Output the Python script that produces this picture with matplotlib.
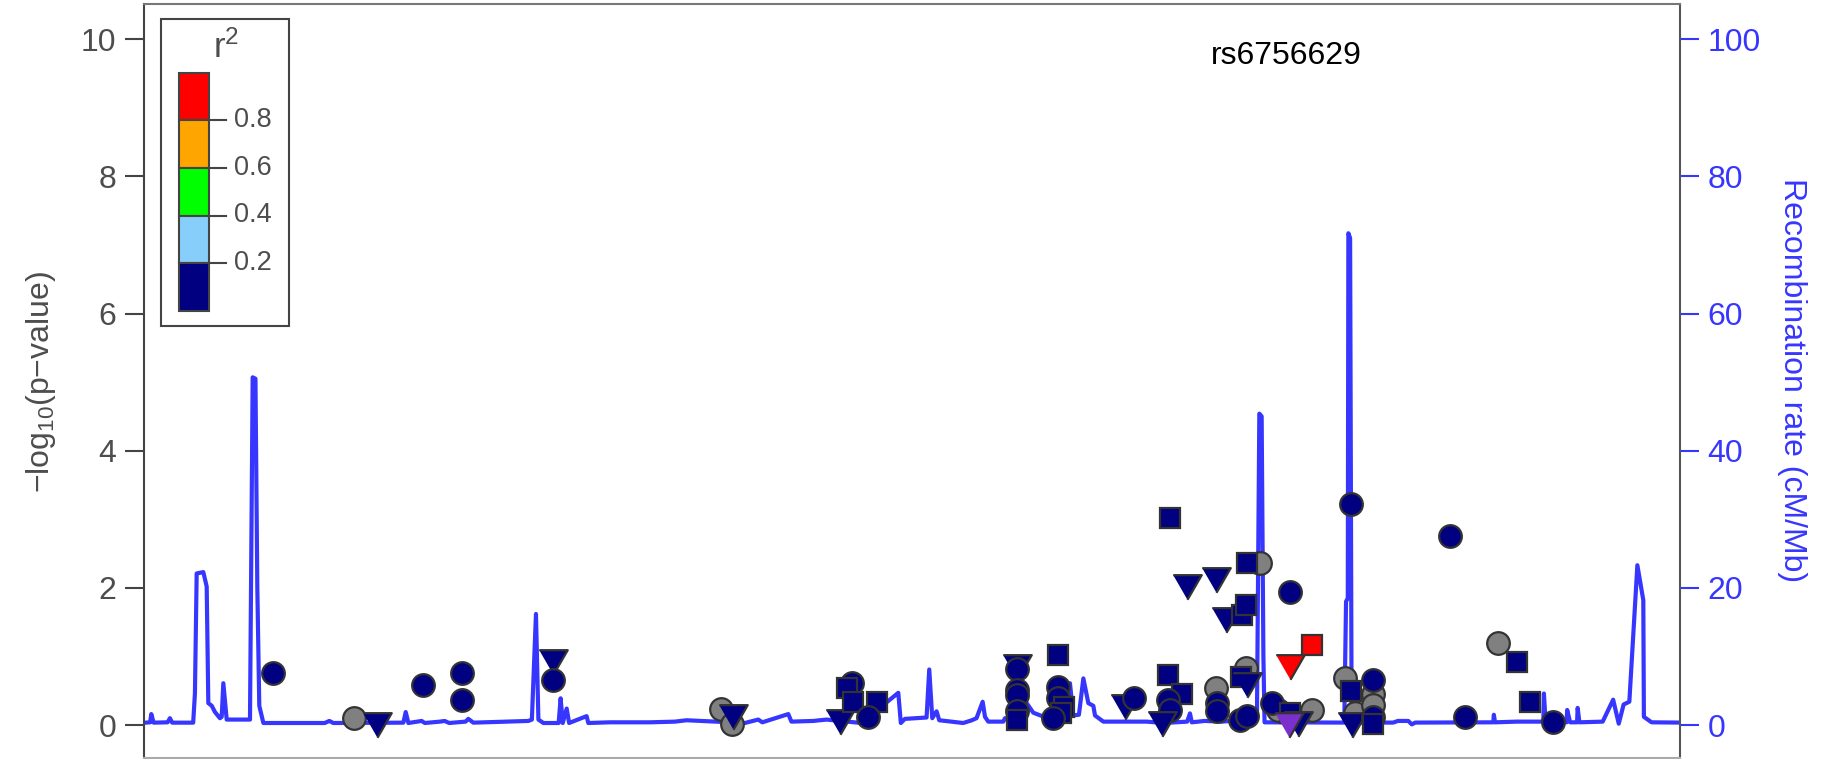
import matplotlib
matplotlib.use('Agg')
import matplotlib.pyplot as plt
from matplotlib.patches import Rectangle
from matplotlib.lines import Line2D

plt.rcParams['font.family'] = ['Liberation Sans', 'DejaVu Sans']
plt.rcParams['mathtext.fontset'] = 'custom'
plt.rcParams['mathtext.rm'] = 'Liberation Sans'
plt.rcParams['mathtext.it'] = 'Liberation Sans'

# SNPs: position (kb, arbitrary offset), -log10(p), marker shape, LD group
snp_pos = [234.3, 304.4, 323.6, 363.2, 397.2, 397.2, 475.4, 474.9, 619.5, 629.2,
           629.5, 721.7, 732.3, 727.5, 733.2, 753.2, 746.0,
           874.0, 874.0, 874.0, 874.0, 874.0, 874.0, 909.3, 909.3, 909.0, 914.5,
           912.0, 904.4, 966.6, 974.3,
           1003.8, 1015.3, 1003.8, 1005.2, 998.1, 1005.2, 1019.6, 1044.8, 1053.4,
           1066.8, 1070.5, 1082.6, 1071.1, 1108.4, 1127.0, 1108.4, 1070.5, 1066.0,
           1071.1, 1044.8, 1045.3, 1045.3, 1065.4, 1071.1, 1092.6, 1098.0, 1108.4,
           1127.0, 1115.5, 1107.5,
           1160.5, 1155.6, 1160.5, 1164.2, 1161.3, 1179.4, 1179.4, 1179.4, 1179.4,
           1179.4, 1245.8, 1287.3, 1303.0, 1314.5, 1258.7, 1334.0]
snp_logp = [0.76, 0.11, 0.0, 0.58, 0.76, 0.36, 0.92, 0.66, 0.24, 0.02,
            0.12, 0.05, 0.61, 0.54, 0.34, 0.34, 0.12,
            0.85, 0.82, 0.51, 0.44, 0.20, 0.07, 1.02, 0.56, 0.39, 0.26,
            0.18, 0.10, 0.27, 0.40,
            0.73, 0.46, 0.37, 0.22, 0.02, 3.02, 2.02, 2.11, 1.53,
            1.60, 1.75, 2.36, 2.36, 1.94, 1.17, 0.85, 0.83, 0.70,
            0.58, 0.54, 0.32, 0.20, 0.07, 0.13, 0.32, 0.22, 0.17,
            0.22, 0.02, 0.0,
            3.22, 0.68, 0.49, 0.17, 0.0, 0.66, 0.46, 0.29, 0.12,
            0.02, 2.76, 1.19, 0.92, 0.33, 0.12, 0.05]
snp_shape = ['o', 'o', 'v', 'o', 'o', 'o', 'v', 'o', 'o', 'o',
             'v', 'v', 'o', 's', 's', 's', 'o',
             'v', 'o', 'o', 'o', 'o', 's', 's', 'o', 'o', 's',
             's', 'o', 'v', 'o',
             's', 's', 'o', 'o', 'v', 's', 'v', 'v', 'v',
             's', 's', 'o', 's', 'o', 's', 'v', 'o', 's',
             'v', 'o', 'o', 'o', 'o', 'o', 'o', 'o', 's',
             'o', 'v', 'v',
             'o', 'o', 's', 'o', 'v', 'o', 'o', 'o', 'o',
             's', 'o', 'o', 's', 's', 'o', 'o']
snp_ld = ['low', 'na', 'low', 'low', 'low', 'low', 'low', 'low', 'na', 'na',
          'low', 'low', 'low', 'low', 'low', 'low', 'low',
          'low', 'low', 'low', 'low', 'low', 'low', 'low', 'low', 'low', 'low',
          'low', 'low', 'low', 'low',
          'low', 'low', 'low', 'low', 'low', 'low', 'low', 'low', 'low',
          'low', 'low', 'na', 'low', 'low', 'high', 'high', 'na', 'low',
          'low', 'na', 'low', 'low', 'low', 'low', 'low', 'na', 'low',
          'na', 'low', 'index',
          'low', 'na', 'low', 'na', 'low', 'low', 'na', 'na', 'low',
          'low', 'low', 'na', 'low', 'low', 'low', 'low']

# recombination rate (cM/Mb)
recomb_pos = [125, 129, 130, 132, 144, 146, 148, 166, 167.5, 169, 174.7, 177.6, 179, 182,
              184.7, 189, 190.5, 191.9, 194.8, 214.8, 217.1, 219.5, 221.1, 222.8, 226.3,
              279, 283, 286.4, 346.6, 348.6, 350.9, 362.3, 365, 378, 382, 386, 400, 402.4,
              406.7, 454, 457, 460.5, 462.6, 466.9, 480, 481.7, 483.5, 486.9, 489, 504,
              505.5, 524, 545.5, 558.4, 579.9, 589.9, 602.8, 640, 651.5, 655, 658.7, 677.3,
              680, 698.8, 710.2, 740, 771.8, 774, 777.5, 796.1, 798.4, 801, 804.7, 807,
              827.6, 835, 839, 844.3, 846.3, 849.1, 862, 863.5, 878, 882.1, 887.8, 900,
              915, 919.3, 922.2, 927, 930.8, 935.1, 939.4, 940.8, 948, 968, 985, 1000,
              1020, 1022.4, 1024, 1035, 1050, 1070, 1076, 1080, 1082, 1084, 1085.5,
              1086.5, 1155, 1156.5, 1158, 1158.5, 1160, 1161.3, 1197, 1201, 1210, 1213,
              1216, 1283, 1283.5, 1284.5, 1303, 1326, 1326.5, 1328, 1346, 1346.5, 1349,
              1355, 1355.5, 1357, 1377, 1386, 1390.8, 1395, 1399.9, 1406.8, 1411.9,
              1412.4, 1419, 1443]
recomb_rate = [0.35, 0.4, 1.6, 0.35, 0.4, 1.0, 0.35, 0.35, 4.6, 22.1, 22.3, 20.2, 3.2, 2.8,
               1.9, 1.0, 1.2, 6.1, 0.8, 0.8, 50.7, 50.5, 20, 2.8, 0.3,
               0.3, 0.6, 0.3, 0.35, 1.9, 0.3, 0.6, 0.3, 0.5, 0.6, 0.3, 0.5, 0.9,
               0.35, 0.6, 0.8, 16.2, 0.8, 0.3, 0.3, 3.9, 0.3, 2.4, 0.3, 1.3,
               0.3, 0.4, 0.4, 0.4, 0.5, 0.7, 0.6, 0.3, 0.8, 0.4, 0.6, 1.6,
               0.5, 0.6, 0.8, 0.3, 4.7, 0.3, 0.9, 1.1, 8.1, 1.0, 2.0, 0.7,
               0.3, 0.7, 1.0, 3.4, 1.2, 0.5, 0.5, 1.0, 1.0, 3.2, 1.8, 1.0,
               1.0, 6.1, 1.4, 1.5, 6.8, 3.2, 2.8, 1.4, 0.5, 0.5, 0.5, 0.3,
               0.5, 1.7, 0.4, 0.6, 0.5, 0.8, 1.0, 2.0, 45.4, 45.0, 10,
               0.4, 0.36, 18, 18.5, 71.7, 71.0, 0.36, 0.36, 0.6, 0.6, 0.1,
               0.36, 0.4, 1.5, 0.4, 0.5, 0.5, 4.6, 0.4, 0.4, 2.2, 0.4,
               0.4, 2.5, 0.4, 0.5, 3.7, 0.2, 3.0, 3.4, 23.3, 18.2,
               1.2, 0.4, 0.36]

lead_snp = 'rs6756629'
ld_colors = {'na': '#808080', 'low': '#000080', 'high': '#FF0000', 'index': '#7B2FCC'}
legend_colors = ['#FF0000', '#FFA500', '#00FF00', '#87CEFA', '#000080']
legend_ticks = ['0.8', '0.6', '0.4', '0.2']

W, H = 1825, 759
fig = plt.figure(figsize=(W / 100, H / 100), dpi=100)
ax = fig.add_axes([144.3 / W, 1 - 757.5 / H, (1679.5 - 144.3) / W, (757.5 - 3.5) / H])
ax2 = ax.twinx()

blue = '#3636FF'
ax2.plot(recomb_pos, recomb_rate, color=blue, lw=3.0, solid_joinstyle='round')
ax2.set_ylim(-4.73, 105.2)
ax2.set_yticks([0, 20, 40, 60, 80, 100])
ax2.tick_params(axis='y', colors=blue, labelsize=23, length=14, width=1.5, pad=6)
for s in ax2.spines.values():
    s.set_visible(False)

ax.set_zorder(ax2.get_zorder() + 1)
ax.patch.set_visible(False)

sizes = {'o': 16.3, 's': 14.8, 'v': 20.5}
tri = [(-1, 0.866), (1, 0.866), (0, -0.866)]
for grp in ['na', 'low', 'high', 'index']:
    for i in range(len(snp_pos)):
        if snp_ld[i] != grp:
            continue
        m = tri if snp_shape[i] == 'v' else snp_shape[i]
        ax.plot(snp_pos[i], snp_logp[i], marker=m, ms=sizes[snp_shape[i]],
                mfc=ld_colors[grp], mec='#333333', mew=1.6, ls='none')

ax.set_xlim(124, 1443)
ax.set_ylim(-0.473, 10.52)
ax.set_xticks([])
ax.set_yticks([0, 2, 4, 6, 8, 10])
ax.tick_params(axis='y', colors='#444444', labelcolor='#4D4D4D', labelsize=23,
               length=14, width=1.5, pad=6)
ax.spines['left'].set_color('#444444')
ax.spines['right'].set_color('#555555')
ax.spines['top'].set_color('#777777')
ax.spines['bottom'].set_color('#AAAAAA')
for s in ax.spines.values():
    s.set_linewidth(1.5)

ax.text(981 + 124, 9.76, lead_snp, fontsize=23, ha='center', va='center', color='black')

fig.text(41 / W, 1 - 382 / H, '\u2212log$_{10}$(p\u2212value)', rotation=90,
         ha='center', va='center', fontsize=23, color='#4D4D4D')
fig.text(1792 / W, 1 - 380 / H, 'Recombination rate (cM/Mb)', rotation=270,
         ha='center', va='center', fontsize=23, color=blue)


# legend box (pixel coordinates converted to figure fraction)
def fx(x):
    return x / W


def fy(y):
    return 1 - y / H


fig.patches.append(Rectangle((fx(161), fy(326)), fx(289) - fx(161), fy(19) - fy(326),
                             transform=fig.transFigure, fc='white', ec='#444444', lw=1.5))
seg = (310.7 - 72.7) / 5
for k, c in enumerate(legend_colors):
    y_top = 72.7 + k * seg
    fig.patches.append(Rectangle((fx(179), fy(y_top + seg)), fx(209) - fx(179),
                                 fy(y_top) - fy(y_top + seg), transform=fig.transFigure,
                                 fc=c, ec='#444444', lw=1.5))
for k, lab in enumerate(legend_ticks):
    yb = 72.7 + (k + 1) * seg
    fig.lines.append(Line2D([fx(209), fx(226)], [fy(yb), fy(yb)], transform=fig.transFigure,
                            color='#444444', lw=1.5))
    fig.text(fx(234), fy(yb), lab, fontsize=19.5, color='#4D4D4D', ha='left', va='center')
fig.text(fx(226), fy(48), 'r$^2$', fontsize=25, color='#4D4D4D', ha='center', va='center')

fig.savefig('out.png', dpi=100)
